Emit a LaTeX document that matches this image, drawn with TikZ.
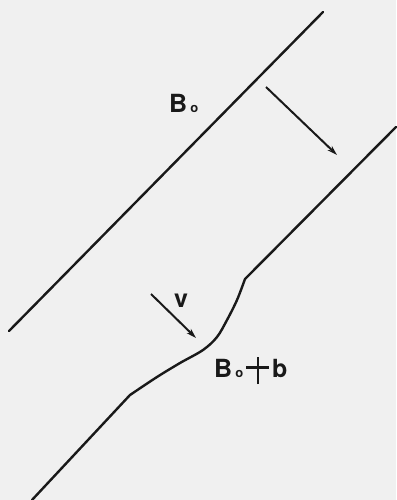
\documentclass[tikz,border=0pt]{standalone}
\usepackage{fontspec}
\setmainfont{TeX Gyre Heros}
\usetikzlibrary{arrows.meta}
\definecolor{paper}{RGB}{240,240,240}
\definecolor{ink}{RGB}{25,25,25}
\newcommand{\subo}{{\fontsize{13}{13}\selectfont\bfseries o}}
\newcommand{\tallplus}{\rlap{\kern10.5pt\raisebox{-7pt}{\rule{2.5pt}{27pt}}}\raisebox{8.5pt}{\rule{23pt}{2.5pt}}}
\begin{document}
\begin{tikzpicture}[x=1pt,y=-1pt,
  fieldline/.style={draw=ink,line width=2.4pt,line cap=round,line join=round},
  motion/.style={draw=ink,line width=2pt,-{Stealth[length=10pt,width=6pt]}},
  lbl/.style={inner sep=0pt,text=ink,font=\fontsize{25}{25}\selectfont\bfseries}]
\fill[paper] (0,0) rectangle (396,500);
\useasboundingbox (0,0) rectangle (396,500);
% unperturbed field line
\coordinate (a1) at (9,331);
\coordinate (a2) at (323,12);
\draw[fieldline] (a1) -- (a2);
% perturbed field line
\coordinate (b1) at (396,127);
\coordinate (b2) at (245,279);
\coordinate (b3) at (130,395);
\coordinate (b4) at (32,500);
\draw[fieldline] (b1) -- (b2)
  plot[smooth,tension=0.55] coordinates {(245,279) (237,300) (227,320) (217,337) (203,350) (180,363) (157,377) (130,395)}
  -- (b4);
% arrows
\coordinate (m1) at (266,87);
\coordinate (m2) at (337,155);
\draw[motion] (m1) -- (m2);
\coordinate (v1) at (151,294);
\coordinate (v2) at (196,338);
\draw[motion] (v1) -- (v2);
% labels
\node[lbl,anchor=base west] (B0) at (169,113) {B\kern3pt\subo};
\node[lbl,anchor=base] (vlab) at (181,307) {v};
\node[lbl,anchor=base west] (Bb) at (214,377) {B\kern3pt\subo\kern3pt\tallplus\kern3pt b};
\end{tikzpicture}
\end{document}
